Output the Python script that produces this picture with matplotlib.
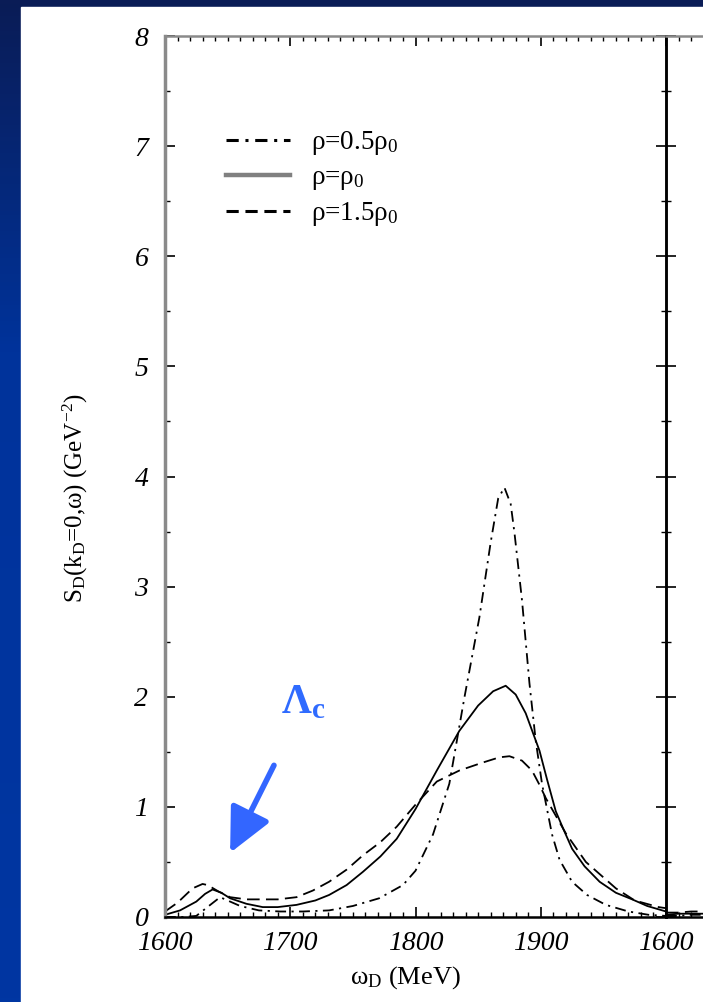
import matplotlib
matplotlib.use("Agg")
import matplotlib.pyplot as plt
from matplotlib.lines import Line2D
from matplotlib.patches import Rectangle
from matplotlib.ticker import MultipleLocator
from matplotlib.colors import LinearSegmentedColormap
import numpy as np

plt.rcParams['font.family'] = ['Liberation Serif', 'DejaVu Serif']
plt.rcParams['mathtext.fontset'] = 'custom'
plt.rcParams['mathtext.rm'] = 'Liberation Serif'
plt.rcParams['mathtext.it'] = 'Liberation Serif:italic'
plt.rcParams['mathtext.bf'] = 'Liberation Serif:bold'

# values (omega in MeV, S in GeV^-2)
w_half = [1600, 1615, 1625, 1635, 1644, 1652, 1660, 1675, 1692, 1710, 1731, 1750,
          1771, 1790, 1800, 1814, 1827, 1839, 1851, 1860, 1866, 1871, 1876, 1879,
          1885, 1891, 1896, 1901, 1909, 1915, 1925, 1937, 1952, 1970, 1986, 2000]
s_half = [0.0, 0.0, 0.01, 0.1, 0.18, 0.14, 0.1, 0.06, 0.05, 0.05, 0.06, 0.1,
          0.17, 0.29, 0.42, 0.75, 1.21, 1.99, 2.72, 3.4, 3.8, 3.9, 3.75, 3.49,
          2.88, 2.12, 1.6, 1.21, 0.75, 0.52, 0.32, 0.2, 0.11, 0.05, 0.02, 0.01]

w_one = [1600, 1612, 1625, 1632, 1638, 1645, 1652, 1665, 1678, 1690, 1705, 1720,
         1731, 1745, 1758, 1772, 1785, 1800, 1817, 1835, 1850, 1862, 1872, 1880,
         1888, 1899, 1905, 1912, 1918, 1925, 1935, 1947, 1960, 1973, 1985, 1997, 2000]
s_one = [0.02, 0.06, 0.14, 0.21, 0.25, 0.22, 0.17, 0.12, 0.09, 0.09, 0.11, 0.15,
         0.2, 0.29, 0.41, 0.55, 0.71, 0.98, 1.33, 1.69, 1.92, 2.05, 2.1, 2.02,
         1.85, 1.51, 1.25, 0.96, 0.8, 0.62, 0.46, 0.32, 0.22, 0.16, 0.1, 0.06, 0.05]

w_onehalf = [1600, 1610, 1622, 1630, 1634, 1643, 1652, 1665, 1678, 1690, 1705, 1718,
             1731, 1745, 1758, 1772, 1785, 1800, 1817, 1835, 1853, 1867, 1875, 1885,
             1893, 1899, 1904, 1912, 1920, 1936, 1960, 1975, 1994, 2000]
s_onehalf = [0.05, 0.13, 0.26, 0.3, 0.29, 0.23, 0.18, 0.16, 0.16, 0.16, 0.18, 0.24,
             0.32, 0.43, 0.56, 0.68, 0.82, 1.02, 1.23, 1.33, 1.4, 1.45, 1.46, 1.42,
             1.33, 1.2, 1.08, 0.92, 0.76, 0.5, 0.26, 0.15, 0.09, 0.08]

# start of the next panel (only a sliver is visible)
w_next = [1600, 1610, 1620, 1630, 1640]
s_next_a = [0.04, 0.04, 0.05, 0.05, 0.05]
s_next_b = [0.02, 0.03, 0.03, 0.03, 0.04]
s_next_c = [0.01, 0.01, 0.02, 0.02, 0.02]

labels = [r'ρ=0.5ρ$_0$', r'ρ=ρ$_0$', r'ρ=1.5ρ$_0$']

W, H = 703, 1002
fig = plt.figure(figsize=(W / 100, H / 100), dpi=100)

# slide background: blue gradient with a white panel
bg = fig.add_axes([0, 0, 1, 1])
bg.set_axis_off()
cmap = LinearSegmentedColormap.from_list('slide', [(0, '#0a1c56'), (0.35, '#00339b'), (1, '#0036a2')])
grad = np.linspace(0, 1, 256).reshape(-1, 1)
bg.imshow(grad, aspect='auto', cmap=cmap, extent=[0, 1, 0, 1], origin='upper')
bg.add_patch(Rectangle((21 / W, 0), 1, (H - 7) / H, color='white'))
bg.set_xlim(0, 1)
bg.set_ylim(0, 1)

x0, x1 = 165, 666
y_top, y_bot = 36, 917
ax = fig.add_axes([x0 / W, (H - y_bot) / H, (x1 - x0) / W, (y_bot - y_top) / H])
ax2 = fig.add_axes([x1 / W, (H - y_bot) / H, (x1 - x0) / W, (y_bot - y_top) / H])

lw = 1.3
ax.plot(w_half, s_half, color='black', lw=lw, dashes=(6, 3, 1.2, 3))
ax.plot(w_one, s_one, color='black', lw=lw)
ax.plot(w_onehalf, s_onehalf, color='black', lw=lw, dashes=(7, 3.5))

ax2.plot(w_next, s_next_a, color='black', lw=lw, dashes=(7, 3.5))
ax2.plot(w_next, s_next_b, color='black', lw=lw)
ax2.plot(w_next, s_next_c, color='black', lw=lw, dashes=(6, 3, 1.2, 3))

for a in (ax, ax2):
    a.set_xlim(1600, 2000)
    a.set_ylim(0, 8)
    a.set_facecolor('none')
    a.xaxis.set_major_locator(MultipleLocator(100))
    a.xaxis.set_minor_locator(MultipleLocator(10))
    a.yaxis.set_major_locator(MultipleLocator(1))
    a.yaxis.set_minor_locator(MultipleLocator(0.5))
    a.tick_params(which='major', direction='in', length=7, width=1.2, top=True, right=True)
    a.tick_params(which='minor', direction='in', length=3.5, width=1.0, top=True, right=True)

ax.spines['left'].set_color('#8a8a8a')
ax.spines['left'].set_linewidth(2.5)
ax.spines['top'].set_color('#8a8a8a')
ax.spines['top'].set_linewidth(1.8)
ax.spines['bottom'].set_linewidth(1.8)
ax.spines['right'].set_linewidth(1.8)
ax2.spines['top'].set_color('#8a8a8a')
ax2.spines['top'].set_linewidth(1.8)
ax2.spines['bottom'].set_linewidth(1.8)
ax2.spines['left'].set_linewidth(1.8)

tick_font = dict(family='Liberation Serif', style='italic', size=20)
ax.set_xticks([1600, 1700, 1800, 1900])
ax.set_xticklabels(['1600', '1700', '1800', '1900'], **tick_font)
ax.set_yticks(range(0, 9))
ax.set_yticklabels([str(v) for v in range(0, 9)], **tick_font)
ax.tick_params(axis='x', pad=10)
ax.tick_params(axis='y', pad=12)

ax2.set_xticks([1600, 1700])
ax2.set_xticklabels(['1600', ''], **tick_font)
ax2.tick_params(axis='x', pad=10)
ax2.set_yticklabels([])

ax.set_xlabel(r'ω$_\mathrm{D}$ (MeV)', fontsize=19)
ax.xaxis.set_label_coords(0.48, -0.054)
ax.set_ylabel(r'S$_\mathrm{D}$(k$_\mathrm{D}$=0,ω) (GeV$^{-2}$)', fontsize=18)
ax.yaxis.set_label_coords(-0.15, 0.475)

handles = [Line2D([], [], color='black', lw=2.2, dashes=(4, 2.2, 1, 2.2)),
           Line2D([], [], color='#808080', lw=3.2),
           Line2D([], [], color='black', lw=2.2, dashes=(4, 2.2))]
leg = ax.legend(handles, labels, loc='upper left', bbox_to_anchor=(0.073, 0.922),
                frameon=False, fontsize=19.5, handlelength=2.35, handletextpad=0.8,
                labelspacing=0.3)

# Lambda_c annotation
ax.text(1693, 1.77, r'Λ$_\mathbf{c}$', color='#2f6bff', fontsize=30, fontweight='bold',
        ha='left', va='bottom')
ax.annotate('', xy=(1651, 0.56), xytext=(1688, 1.4),
            arrowprops=dict(arrowstyle='-|>,head_length=1.35,head_width=0.65',
                            color='#3366ff', lw=4, mutation_scale=20))

fig.savefig('out.png', dpi=100)
